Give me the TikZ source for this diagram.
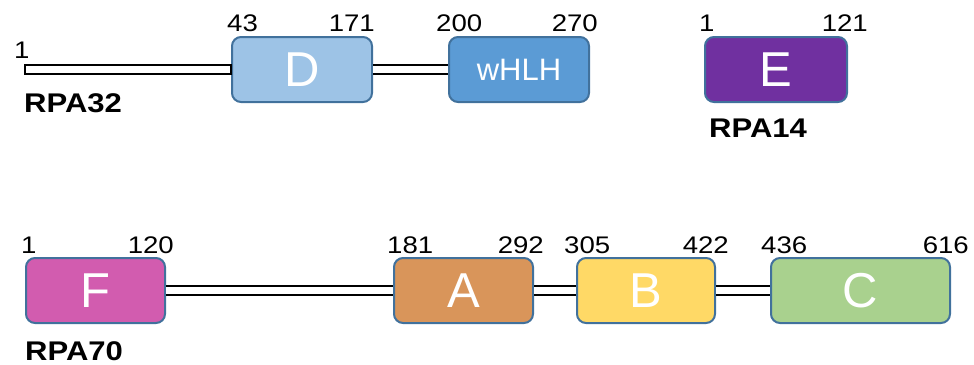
\documentclass[tikz,border=0pt]{standalone}
\usepackage{fontspec}
\setmainfont{Liberation Sans}
\newfontfamily\widesans{Liberation Sans}[FakeStretch=1.15]
\definecolor{edgeblue}{HTML}{41719C}
\definecolor{dcol}{HTML}{9DC3E6}
\definecolor{hcol}{HTML}{5B9BD5}
\definecolor{ecol}{HTML}{7030A0}
\definecolor{fcol}{HTML}{D25CAF}
\definecolor{acol}{HTML}{D9955A}
\definecolor{bcol}{HTML}{FFD966}
\definecolor{ccol}{HTML}{A9D18E}
\begin{document}
\begin{tikzpicture}[x=1pt,y=-1pt,
  domainbox/.style={draw=edgeblue, line width=2pt, rounded corners=9pt,
    minimum height=65pt, inner sep=0pt, text=white,
    font=\fontsize{49}{52}\selectfont},
  posnum/.style={inner sep=0pt, font=\widesans\fontsize{24}{26}\selectfont},
  protname/.style={inner sep=0pt, anchor=base west,
    font=\widesans\fontsize{27}{32}\selectfont\bfseries},
  linker/.style={draw=black, line width=2pt, double=white, double distance=7pt}]
\useasboundingbox (0,0) rectangle (974,364);

% RPA32: N-terminal tail, D and wHLH
\coordinate (n32) at (25,69.5);
\node[domainbox, fill=dcol, minimum width=140pt] (D) at (302,69.5) {D};
\node[domainbox, fill=hcol, minimum width=140pt, font=\fontsize{31}{34}\selectfont] (H) at (519,69.5) {wHLH};
\draw[line width=2pt, fill=white] ([yshift=-4.5pt]n32) rectangle ([yshift=4.5pt]D.west);
\draw[linker] (D.east) -- (H.west);

% RPA14
\node[domainbox, fill=ecol, minimum width=142pt] (E) at (776,69.5) {E};

% RPA70: F, A, B, C
\node[domainbox, fill=fcol, minimum width=139pt] (F) at (95.5,290.5) {F};
\node[domainbox, fill=acol, minimum width=139pt] (A) at (463.5,290.5) {A};
\node[domainbox, fill=bcol, minimum width=138pt] (B) at (646,290.5) {B};
\node[domainbox, fill=ccol, minimum width=179pt] (C) at (860.5,290.5) {C};
\draw[linker] (F.east) -- (A.west);
\draw[linker] (A.east) -- (B.west);
\draw[linker] (B.east) -- (C.west);

% residue numbers
\node[posnum, anchor=base west] (p1a) at (14,58) {1};
\node[posnum, anchor=base west] (p43) at (227,31) {43};
\node[posnum, anchor=base east] (p171) at (375,31) {171};
\node[posnum, anchor=base west] (p200) at (436,31) {200};
\node[posnum, anchor=base east] (p270) at (598,31) {270};
\node[posnum, anchor=base west] (p1b) at (699,31) {1};
\node[posnum, anchor=base east] (p121) at (868,31) {121};
\node[posnum, anchor=base west] (p1c) at (21,253) {1};
\node[posnum, anchor=base east] (p120) at (174,253) {120};
\node[posnum, anchor=base west] (p181) at (387,253) {181};
\node[posnum, anchor=base east] (p292) at (544,253) {292};
\node[posnum, anchor=base west] (p305) at (564,253) {305};
\node[posnum, anchor=base east] (p422) at (729,253) {422};
\node[posnum, anchor=base west] (p436) at (761,253) {436};
\node[posnum, anchor=base east] (p616) at (969,253) {616};

% protein names
\node[protname] (l32) at (24,112) {RPA32};
\node[protname] (l14) at (709,137) {RPA14};
\node[protname] (l70) at (25,360) {RPA70};
\end{tikzpicture}
\end{document}
